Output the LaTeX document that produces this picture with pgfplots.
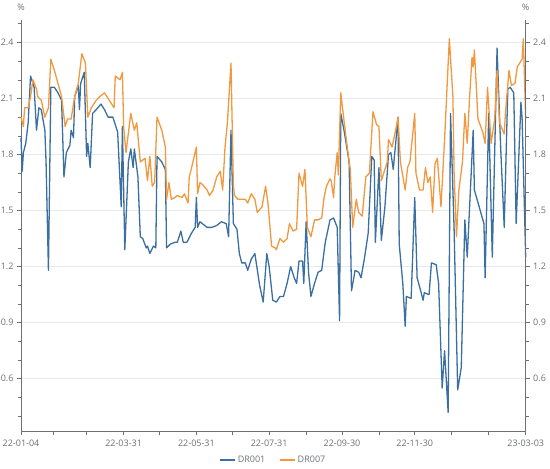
\documentclass[border=0pt]{standalone}
\usepackage{fontspec}
\setmainfont{Open Sans}
\usepackage{pgfplots}
\usepackage{pgfplotstable}
\pgfplotsset{compat=1.18}
\definecolor{drblue}{HTML}{3B6FA0}
\definecolor{drorange}{HTML}{F2983E}
\definecolor{axgray}{HTML}{6E7079}
\definecolor{gridgray}{HTML}{E6E9F0}

\pgfplotstableread{
x y
0 1.89
1 1.71
2 1.81
4 1.86
6 1.97
8 2.22
11 2.16
13 1.93
15 2.05
17 2.04
20 1.93
21 1.76
23 1.18
25 2.16
28 2.16
31 2.13
34 2.09
36 1.68
38 1.81
41 1.85
42 1.93
44 1.89
45 2.11
48 2.17
49 2.04
50 2.18
53 2.24
55 1.79
56 1.86
58 1.73
60 2.02
63 2.04
67 2.07
70 2.04
73 2.00
77 2.00
81 1.92
84 1.52
85 1.95
87 1.29
90 1.76
92 1.83
94 1.73
95 1.83
98 1.68
100 1.36
102 1.35
105 1.30
106 1.31
108 1.27
111 1.31
113 1.30
114 1.79
118 1.76
121 1.72
122 1.30
125 1.32
129 1.33
131 1.33
134 1.39
136 1.33
139 1.33
143 1.38
146 1.41
147 1.57
148 1.41
150 1.44
152 1.43
156 1.41
160 1.41
164 1.42
168 1.44
172 1.43
174 1.36
176 1.93
178 1.43
181 1.40
183 1.27
185 1.22
188 1.22
190 1.18
193 1.24
196 1.27
200 1.10
203 1.01
206 1.27
208 1.20
211 1.02
214 1.01
217 1.04
220 1.04
223 1.11
226 1.20
229 1.14
231 1.11
233 1.23
236 1.23
237 1.11
239 1.44
241 1.17
243 1.04
246 1.11
249 1.17
252 1.18
255 1.33
259 1.45
262 1.46
265 1.41
267 0.91
268 2.02
271 1.92
275 1.76
277 1.07
280 1.18
283 1.17
285 1.14
288 1.25
291 1.38
294 1.79
296 1.77
297 1.33
300 1.73
302 1.34
305 1.52
308 1.80
310 1.81
312 1.72
314 1.86
316 2.00
317 1.32
320 1.11
322 0.88
323 1.04
327 1.03
330 1.57
332 1.14
335 1.07
337 1.02
338 1.06
342 1.05
344 1.22
348 1.21
350 1.11
353 0.55
355 0.75
358 0.42
360 2.02
363 1.40
366 0.54
369 0.66
372 1.45
374 1.25
379 1.93
380 1.61
384 1.52
388 1.43
389 1.14
392 2.02
395 1.25
399 2.37
402 1.84
405 1.41
408 2.15
410 2.16
413 2.13
415 1.43
419 2.08
420 1.99
423 1.25
}\drone

\pgfplotstableread{
x y
0 2.00
2 1.95
3 2.05
6 2.05
8 2.11
10 2.20
13 2.15
14 2.11
17 2.09
20 2.00
23 2.05
25 2.31
28 2.25
31 2.18
34 2.11
37 1.95
39 1.99
42 1.99
45 2.11
48 2.18
51 2.34
54 2.29
56 2.00
59 2.05
63 2.09
66 2.11
70 2.13
73 2.10
75 2.08
78 2.05
79 2.22
83 2.20
85 2.24
86 1.95
88 1.81
92 2.02
95 1.93
97 1.97
100 1.76
104 1.78
106 1.66
108 1.79
110 1.63
112 1.65
114 2.00
118 1.93
121 1.84
122 1.56
124 1.65
126 1.56
129 1.57
131 1.58
135 1.57
137 1.59
140 1.54
141 1.68
143 1.73
147 1.84
148 1.59
150 1.65
152 1.64
156 1.61
158 1.58
161 1.61
164 1.68
167 1.71
169 1.61
171 1.84
173 1.97
176 2.29
178 1.63
179 1.58
182 1.56
188 1.56
190 1.54
193 1.59
196 1.56
198 1.49
202 1.52
205 1.63
207 1.54
210 1.31
213 1.30
214 1.29
217 1.35
220 1.33
223 1.35
225 1.43
228 1.39
231 1.40
233 1.70
236 1.63
238 1.72
240 1.41
243 1.36
246 1.45
249 1.45
252 1.46
254 1.57
256 1.63
259 1.67
260 1.66
262 1.57
263 1.68
265 1.81
266 1.69
268 2.13
270 2.02
273 1.86
276 1.72
278 1.41
281 1.56
283 1.49
286 1.47
289 1.68
292 1.70
295 2.03
298 1.96
300 1.95
302 1.66
307 1.76
308 1.88
311 1.84
314 1.93
316 2.00
318 1.76
322 1.61
324 1.73
326 1.76
330 2.02
331 1.70
334 1.61
337 1.61
339 1.73
341 1.65
343 1.68
345 1.49
347 1.75
349 1.78
352 1.52
355 1.88
359 2.42
362 2.11
363 1.70
365 1.36
367 1.61
370 1.76
372 2.02
374 1.86
376 2.11
378 2.32
379 2.27
380 2.36
383 1.99
387 1.92
389 1.86
391 2.16
394 1.86
397 1.99
399 2.25
401 1.97
405 1.91
406 2.02
409 2.25
411 2.17
414 2.18
416 2.27
420 2.31
421 2.42
423 1.99
}\drseven

\begin{document}
\begin{tikzpicture}
\useasboundingbox (0,0) rectangle (550pt,469pt);
\pgfplotsset{
  common/.style={
    at={(21pt,38pt)}, anchor=south west,
    scale only axis, width=504.7pt, height=411pt,
    xmin=0, xmax=423, ymin=0.32, ymax=2.52,
    ytick={0.6,0.9,1.2,1.5,1.8,2.1,2.4},
    minor ytick={0.4,0.5,0.7,0.8,1.0,1.1,1.3,1.4,1.6,1.7,1.9,2.0,2.2,2.3,2.5},
    tick align=outside,
    major tick length=4pt, minor tick length=3pt,
    every tick/.style={axgray, line width=0.5pt},
    axis line style={axgray, line width=0.6pt, -},
    every tick label/.append style={font=\fontsize{9}{10}\selectfont, text=axgray},
    /pgf/number format/assume math mode=true,
    y tick label style={/pgf/number format/fixed, /pgf/number format/fixed zerofill, /pgf/number format/precision=1},
  }
}
\begin{axis}[common,
  axis x line*=bottom, axis y line*=left,
  xtick={0,27,55,86,116,147,177,208,239,269,300,330,361,392,423},
  xticklabels={22-01-04,,,22-03-31,,22-05-31,,22-07-31,,22-09-30,,22-11-30,,,23-03-03},
  x tick label style={yshift=-1pt},
  ymajorgrids, grid style={gridgray, line width=0.5pt},
  legend style={at={(0.5,-0.071)}, anchor=center, draw=none, fill=none,
    font=\fontsize{9}{10}\selectfont, text=axgray,
    legend columns=2, /tikz/every even column/.append style={column sep=12pt}},
  legend image code/.code={\draw[#1, line width=1.4pt] (0pt,0pt) -- (15pt,0pt);},
  clip=false,
]
\addplot[drblue, line width=1.3pt, line join=round] table {\drone};
\addlegendentry{DR001}
\addplot[drorange, line width=1.3pt, line join=round] table {\drseven};
\addlegendentry{DR007}
\node[text=axgray, font=\fontsize{9}{10}\selectfont] at (rel axis cs:0,1) [yshift=13pt] {\%};
\node[text=axgray, font=\fontsize{9}{10}\selectfont] at (rel axis cs:1,1) [yshift=13pt] {\%};
\end{axis}
\begin{axis}[common,
  axis x line=none, axis y line*=right,
  yticklabel pos=right,
]
\end{axis}
\end{tikzpicture}
\end{document}
